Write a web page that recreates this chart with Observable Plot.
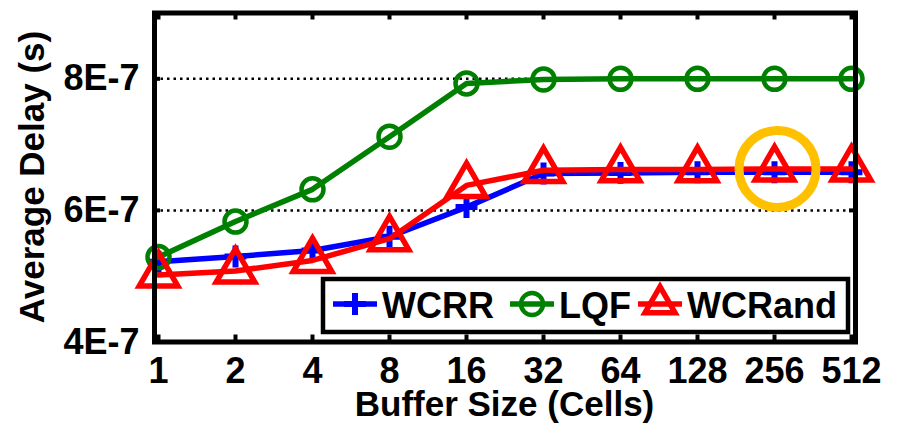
<!DOCTYPE html>
<html>
<head>
<meta charset="utf-8">
<script src="https://cdn.jsdelivr.net/npm/d3@7"></script>
<script src="https://cdn.jsdelivr.net/npm/@observablehq/plot@0.6"></script>
<style>
  html, body { margin: 0; padding: 0; background: white; }
</style>
</head>
<body>
<div id="chart"></div>
<script>
// ---- data ----
const bufferSizes = ["1", "2", "4", "8", "16", "32", "64", "128", "256", "512"];
const wcrrDelay   = [5.22e-7, 5.30e-7, 5.39e-7, 5.60e-7, 6.05e-7, 6.56e-7, 6.57e-7, 6.58e-7, 6.58e-7, 6.58e-7];
const lqfDelay    = [5.29e-7, 5.83e-7, 6.32e-7, 7.12e-7, 7.93e-7, 7.99e-7, 8.00e-7, 8.00e-7, 8.00e-7, 8.00e-7];
const wcrandDelay = [5.02e-7, 5.08e-7, 5.24e-7, 5.57e-7, 6.38e-7, 6.61e-7, 6.62e-7, 6.62e-7, 6.63e-7, 6.63e-7];
const seriesNames = ["WCRR", "LQF", "WCRand"];
const yTicks = [4e-7, 6e-7, 8e-7];
const gridValues = [6e-7, 8e-7];
const highlight = {size: "256", series: "WCRand"};
const xTitle = "Buffer Size (Cells)";
const yTitle = "Average Delay (s)";

// ---- styles ----
const colors = {WCRR: "#0000ff", LQF: "#008000", WCRand: "#ff0000"};
const symbols = {WCRR: "plus", LQF: "circle", WCRand: "triangle"};
const markR = {WCRR: 7.1, LQF: 11, WCRand: 14.3};
const markW = {WCRR: 6, LQF: 4.5, WCRand: 5.5};

const valuesBy = {WCRR: wcrrDelay, LQF: lqfDelay, WCRand: wcrandDelay};
const rows = seriesNames.flatMap(s => bufferSizes.map((b, i) => ({series: s, size: b, delay: valuesBy[s][i]})));
const hl = rows.filter(d => d.size === highlight.size && d.series === highlight.series);

const W = 899, H = 423;
const mL = 154, mR = 44, mT = 12.5, mB = 81.5;
const innerH = H - mT - mB, innerW = W - mL - mR;
const font = "'Liberation Sans', Arial, Helvetica, sans-serif";

const marks = [
  Plot.ruleY(gridValues, {stroke: "black", strokeWidth: 2.5, strokeDasharray: "2.5,4"}),
  // inward ticks
  Plot.ruleX(bufferSizes, {stroke: "black", strokeWidth: 4, insetTop: innerH - 7}),
  Plot.ruleX(bufferSizes, {stroke: "black", strokeWidth: 4, insetBottom: innerH - 7}),
  Plot.ruleY(gridValues, {stroke: "black", strokeWidth: 4, insetRight: innerW - 6}),
  Plot.ruleY(gridValues, {stroke: "black", strokeWidth: 4, insetLeft: innerW - 6}),
  Plot.axisX({tickSize: 0, tickPadding: 15, fontSize: 36, label: null}),
  Plot.axisY({ticks: yTicks, tickSize: 0, tickPadding: 15, fontSize: 36, label: null,
    tickFormat: d => Math.round(d * 1e7) + "E-7"}),
];
for (const s of seriesNames) {
  const data = rows.filter(d => d.series === s);
  marks.push(Plot.line(data, {x: "size", y: "delay", stroke: colors[s], strokeWidth: 5.5}));
  marks.push(Plot.dot(data, {x: "size", y: "delay", symbol: () => symbols[s], r: markR[s],
    stroke: colors[s], strokeWidth: markW[s], fill: "none", strokeLinejoin: "miter", strokeLinecap: "butt"}));
}
marks.push(Plot.dot(hl, {x: "size", y: "delay", r: 38.5, stroke: "#ffc000", strokeWidth: 9, fill: "none", dx: 3}));
marks.push(Plot.frame({stroke: "black", strokeWidth: 5}));

const svg = Plot.plot({
  width: W, height: H,
  marginLeft: mL, marginRight: mR, marginTop: mT, marginBottom: mB,
  x: {type: "point", domain: bufferSizes, padding: 0},
  y: {domain: [4e-7, 9e-7]},
  style: {fontFamily: font, fontWeight: "bold", color: "black", background: "white", overflow: "visible"},
  marks
});

const root = d3.select(svg);
// ---- axis titles ----
const tg = root.append("g").attr("font-family", font).attr("font-weight", "bold").attr("font-size", 35)
  .attr("text-anchor", "middle").attr("fill", "black");
tg.append("text").attr("x", mL + innerW / 2).attr("y", 416).text(xTitle);
tg.append("text").attr("transform", `translate(44,${mT + innerH / 2}) rotate(-90)`).text(yTitle);

// ---- legend ----
const g = root.append("g").attr("font-family", font).attr("font-weight", "bold").attr("font-size", 36)
  .attr("text-anchor", "start");
g.append("rect").attr("x", 323).attr("y", 279).attr("width", 525).attr("height", 53)
  .attr("fill", "white").attr("stroke", "black").attr("stroke-width", 4.5);
const legendX = [333, 510, 638];
const d3sym = {plus: d3.symbolPlus, circle: d3.symbolCircle, triangle: d3.symbolTriangle2};
seriesNames.forEach((s, i) => {
  const x0 = legendX[i], yc = 304;
  g.append("line").attr("x1", x0).attr("x2", x0 + 44).attr("y1", yc).attr("y2", yc)
    .attr("stroke", colors[s]).attr("stroke-width", 5.5);
  const r = markR[s];
  g.append("path").attr("transform", `translate(${x0 + 22},${yc})`)
    .attr("d", d3.symbol(d3sym[symbols[s]], Math.PI * r * r)())
    .attr("fill", "none").attr("stroke", colors[s]).attr("stroke-width", markW[s])
    .attr("stroke-linejoin", "miter");
  g.append("text").attr("x", x0 + 49).attr("y", 318).attr("fill", "black").text(s);
});

document.getElementById("chart").appendChild(svg);
</script>
</body>
</html>
